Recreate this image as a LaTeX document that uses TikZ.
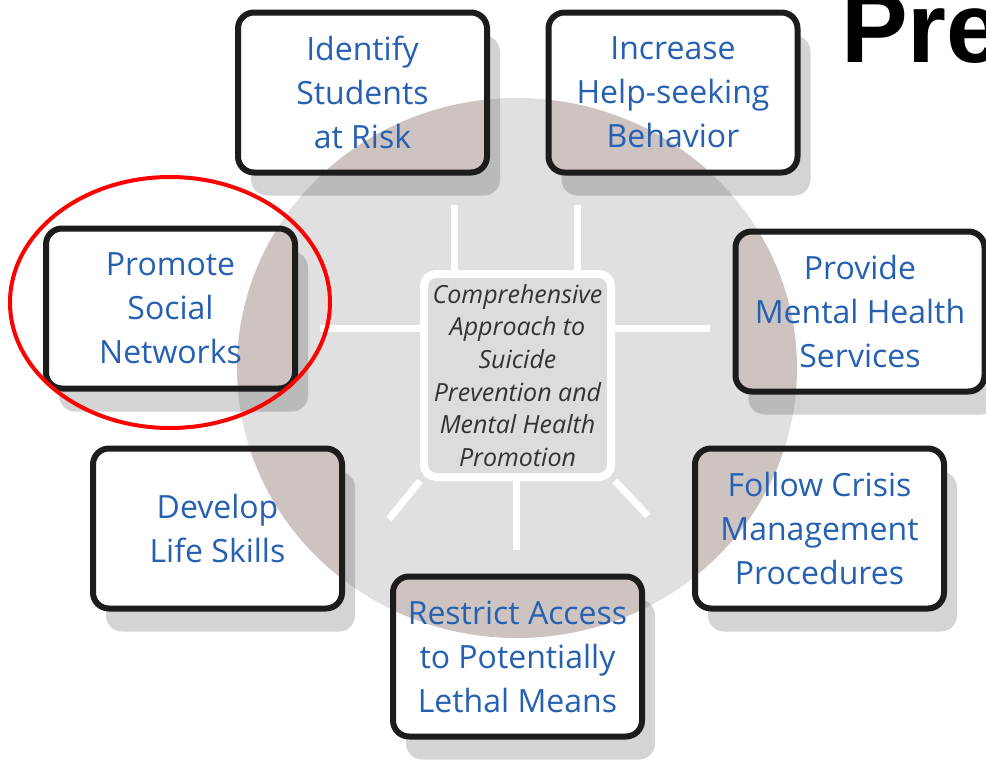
\documentclass[tikz,border=0pt]{standalone}
\usepackage{fontspec}
\usetikzlibrary{shapes.geometric,shadows}
\newfontfamily\boxfont{Open Sans}
\newfontfamily\titlefont{Liberation Sans}
\definecolor{disc}{HTML}{E0E0E0}
\definecolor{discin}{HTML}{CDC4C2}
\definecolor{hubfill}{HTML}{DCDCDC}
\definecolor{label}{HTML}{2560B2}
\definecolor{hubtext}{HTML}{333333}
\definecolor{edge}{HTML}{1C1C1C}
\begin{document}
\begin{tikzpicture}[x=1pt,y=-1pt,
  goal/.style={draw=edge, line width=6pt, rounded corners=16pt, fill=white,
    minimum width=249pt, minimum height=160pt, inner sep=0pt, align=center,
    text=label, font=\boxfont\fontsize{32}{44}\selectfont,
    drop shadow={shadow xshift=13pt, shadow yshift=-23pt, opacity=0.17, fill=black},
    path picture={\fill[discin] (dc) ellipse [x radius=280pt, y radius=270pt];}},
  hub/.style={draw=white, line width=8pt, rounded corners=12pt, fill=hubfill,
    minimum width=187pt, minimum height=203pt, inner sep=0pt, align=center,
    text=hubtext, font=\boxfont\itshape\fontsize{25}{32.6}\selectfont},
  spoke/.style={draw=white, line width=7pt}]
\useasboundingbox (0,0) rectangle (986,761);
\fill[white] (0,0) rectangle (986,761);

% background disc
\coordinate (dc) at (517,368);
\fill[disc] (dc) ellipse [x radius=280, y radius=270];

% central hub
\node[hub] (hub) at (517.5,375.5) {Comprehensive\\Approach to\\Suicide\\Prevention and\\Mental Health\\Promotion};

% spokes
\coordinate (s1) at (454,205);
\coordinate (s2) at (577,205);
\coordinate (s3) at (320,328);
\coordinate (s4) at (710,328);
\coordinate (s5) at (516,550);
\coordinate (s6) at (389,519);
\coordinate (s7) at (648,516);
\draw[spoke] (hub.north -| s1) -- (s1);
\draw[spoke] (hub.north -| s2) -- (s2);
\draw[spoke] (hub.west |- s3) -- (s3);
\draw[spoke] (hub.east |- s4) -- (s4);
\draw[spoke] (hub.south -| s5) -- (s5);
\draw[spoke] (hub.south west) -- (s6);
\draw[spoke] (hub.south east) -- (s7);

% goals
\node[goal] (identify) at (362.5,92.5) {Identify\\Students\\at Risk};
\node[goal] (help) at (673,92.5) {Increase\\Help-seeking\\Behavior};
\node[goal] (social) at (170.5,308.5) {Promote\\Social\\Networks};
\node[goal] (mental) at (860,311.5) {Provide\\Mental Health\\Services};
\node[goal] (skills) at (217.5,528.5) {Develop\\Life Skills};
\node[goal] (crisis) at (819.5,528.5) {Follow Crisis\\Management\\Procedures};
\node[goal] (access) at (517.5,656.5) {Restrict Access\\to Potentially\\Lethal Means};

% highlight
\node[ellipse, draw=red, line width=4pt, minimum width=320pt, minimum height=251pt, inner sep=0pt] (mark) at (170,302.5) {};

% heading, running off the right edge
\node[anchor=base west, inner sep=0pt, font=\titlefont\bfseries\fontsize{100}{100}\selectfont] (title) at (841,62) {Pre};
\end{tikzpicture}
\end{document}
